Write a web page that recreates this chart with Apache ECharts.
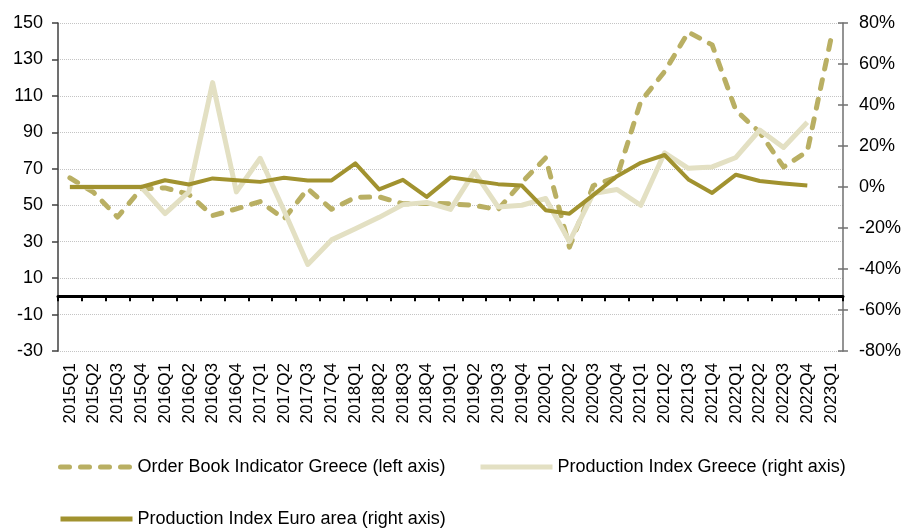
<!DOCTYPE html>
<html>
<head>
<meta charset="utf-8">
<script src="https://cdn.jsdelivr.net/npm/echarts@6/dist/echarts.min.js"></script>
<style>
  html, body { margin: 0; padding: 0; background: #fff; }
  #chart { width: 904px; height: 529px; }
</style>
</head>
<body>
<div id="chart"></div>
<script>
// Quarters on the category axis
const quarters = [
  '2015Q1','2015Q2','2015Q3','2015Q4','2016Q1','2016Q2','2016Q3','2016Q4',
  '2017Q1','2017Q2','2017Q3','2017Q4','2018Q1','2018Q2','2018Q3','2018Q4',
  '2019Q1','2019Q2','2019Q3','2019Q4','2020Q1','2020Q2','2020Q3','2020Q4',
  '2021Q1','2021Q2','2021Q3','2021Q4','2022Q1','2022Q2','2022Q3','2022Q4',
  '2023Q1'
];

// Order Book Indicator Greece (left axis, index level)
const orderBookGreece = [
  65, 57, 43.5, 59, 59.5, 56, 44.3, 48,
  52, 42.5, 59, 47.8, 54.3, 54.6, 50.8, 51,
  50.8, 49.9, 47.6, 62.5, 76, 27, 60.7, 65.5,
  107, 123.3, 145, 138, 102, 90, 71, 79.5,
  141.7
];

// Production Index Greece, y-o-y change in % (right axis)
const prodGreece = [
  0, 0, 0, 0, -13, -2.4, 50.9, -2.4,
  14, -11.5, -37.8, -25.8, -20.4, -14.8, -8.6, -7.5,
  -10.9, 7.4, -9.7, -8.9, -5.6, -26.6, -3.2, -1.2,
  -8.9, 16.7, 9.1, 9.8, 14.4, 27.8, 19.3, 31.6,
  null
];

// Production Index Euro area, y-o-y change in % (right axis)
const prodEuroArea = [
  0, 0, 0, 0, 3.3, 1.2, 4.2, 3.3,
  2.5, 4.5, 3.2, 3.2, 11.5, -1.2, 3.5, -4.8,
  4.7, 3.0, 1.4, 0.7, -11.3, -13, -4, 5.3,
  11.8, 15.6, 3.7, -2.9, 6, 2.9, 1.7, 0.7,
  null
];

const NAME_ORDER = 'Order Book Indicator Greece (left axis)';
const NAME_GR = 'Production Index Greece (right axis)';
const NAME_EA = 'Production Index Euro area (right axis)';

const FONT = "'Liberation Sans', Arial, sans-serif";
const C_ORDER = '#B9AF63';
const C_GR = '#E3E0C3';
const C_EA = '#A1922F';

const DASH = [9, 11];

const chart = echarts.init(document.getElementById('chart'), null, { renderer: 'canvas' });

const legendText = { fontFamily: FONT, fontSize: 18, color: '#000' };

// one legend box per entry so each sits in its own slot
function legendBox(name, left, top, lineStyle) {
  return {
    data: [name],
    left: left,
    top: top,
    padding: 0,
    itemWidth: 72,
    itemHeight: 12,
    itemGap: 0,
    textStyle: legendText,
    itemStyle: { opacity: 0 },
    lineStyle: lineStyle
  };
}

chart.setOption({
  animation: false,
  backgroundColor: '#fff',
  grid: { left: 58, right: 61, top: 23, bottom: 178, containLabel: false },
  legend: [
    legendBox(NAME_ORDER, 58, 458, { width: 5, type: DASH, cap: 'round', color: C_ORDER }),
    legendBox(NAME_GR, 478, 458, { width: 5, type: 'solid', color: C_GR }),
    legendBox(NAME_EA, 58, 510, { width: 5, type: 'solid', color: C_EA })
  ],
  xAxis: [
    {
      // labels along the bottom edge of the plot
      type: 'category',
      data: quarters,
      position: 'bottom',
      boundaryGap: true,
      axisLine: { show: false, onZero: false },
      axisTick: { show: false },
      axisLabel: { rotate: 90, margin: 12, fontFamily: FONT, fontSize: 17, color: '#000', interval: 0 },
      splitLine: { show: false }
    },
    {
      // the category baseline drawn at zero of the left axis
      type: 'category',
      data: quarters,
      position: 'bottom',
      boundaryGap: true,
      axisLine: { show: true, onZero: true, onZeroAxisIndex: 0, lineStyle: { color: '#000', width: 3 } },
      axisTick: { show: true, inside: false, length: 5, interval: 0, lineStyle: { color: '#000', width: 2 } },
      axisLabel: { show: false },
      splitLine: { show: false }
    }
  ],
  yAxis: [
    {
      type: 'value',
      position: 'left',
      min: -30, max: 150, interval: 20,
      axisLine: { show: true, lineStyle: { color: '#404040', width: 1.5 } },
      axisTick: { show: true, length: 6, lineStyle: { color: '#404040', width: 1.5 } },
      axisLabel: { margin: 15, fontFamily: FONT, fontSize: 18, color: '#000' },
      splitLine: { show: true, lineStyle: { color: '#c4c4c4', width: 1, type: 'dotted' } }
    },
    {
      type: 'value',
      position: 'right',
      min: -80, max: 80, interval: 20,
      axisLine: { show: true, lineStyle: { color: '#707070', width: 1.5 } },
      axisTick: { show: true, length: 5, lineStyle: { color: '#707070', width: 1.5 } },
      axisLabel: { margin: 16, fontFamily: FONT, fontSize: 18, color: '#000', formatter: '{value}%' },
      splitLine: { show: false }
    },
    {
      // inner half of the crossing ticks on the right axis
      type: 'value',
      position: 'right',
      min: -80, max: 80, interval: 20,
      axisLine: { show: false },
      axisTick: { show: true, inside: true, length: 5, lineStyle: { color: '#707070', width: 1.5 } },
      axisLabel: { show: false },
      splitLine: { show: false }
    }
  ],
  series: [
    {
      name: NAME_ORDER,
      type: 'line',
      yAxisIndex: 0,
      data: orderBookGreece,
      symbol: 'none',
      smooth: false,
      color: C_ORDER,
      lineStyle: { color: C_ORDER, width: 5, type: DASH, cap: 'round', join: 'round' },
      z: 2
    },
    {
      name: NAME_GR,
      type: 'line',
      yAxisIndex: 1,
      data: prodGreece,
      symbol: 'none',
      color: C_GR,
      lineStyle: { color: C_GR, width: 5, join: 'round' },
      z: 3
    },
    {
      name: NAME_EA,
      type: 'line',
      yAxisIndex: 1,
      data: prodEuroArea,
      symbol: 'none',
      color: C_EA,
      lineStyle: { color: C_EA, width: 4, join: 'round' },
      z: 4
    }
  ]
});
</script>
</body>
</html>
